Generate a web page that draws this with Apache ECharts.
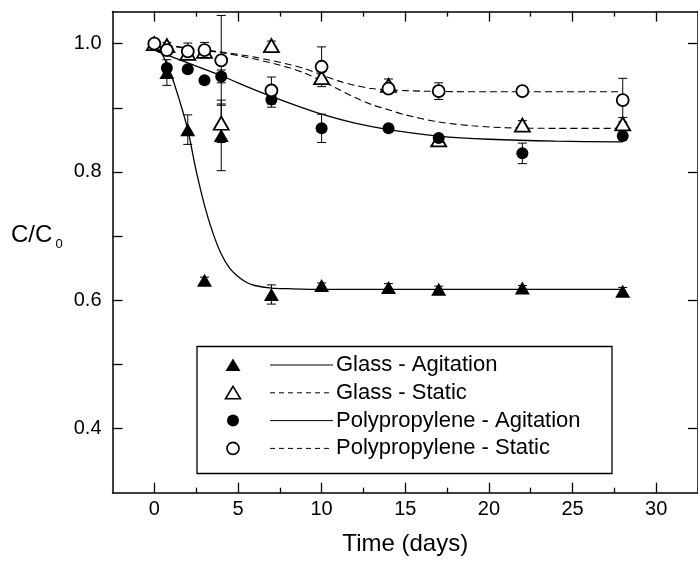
<!DOCTYPE html>
<html>
<head>
<meta charset="utf-8">
<title>C/C0 vs time</title>
<script src="https://cdn.jsdelivr.net/npm/echarts@6.0.0/dist/echarts.min.js"></script>
<style>
html, body { margin: 0; padding: 0; background: #fff; }
#main { width: 698px; height: 562px; }
</style>
</head>
<body>
<div id="main"></div>
<script>
// sampling days
const days = [0, 0.75, 2, 3, 4, 7, 10, 14, 17, 22, 28];

// measured C/C0 and error (half-range)
const glassAgit = [null, 0.955, 0.866, 0.631, 0.857, 0.609, 0.623, 0.620, 0.617, 0.619, 0.614];
const glassAgitErr = [0, 0.02, 0.023, 0.005, 0.055, 0.015, 0.004, 0.006, 0.005, 0.004, 0.006];
const glassStatic = [1.0, 0.997, 0.985, 0.988, 0.876, 0.997, 0.947, 0.935, 0.850, 0.873, 0.875];
const glassStaticErr = [0, 0.005, 0.005, 0.005, 0.03, 0.007, 0.01, 0.01, 0.005, 0.007, 0.01];
const ppAgit = [null, 0.962, 0.960, 0.943, 0.949, 0.913, 0.868, 0.868, 0.853, 0.829, 0.856];
const ppAgitErr = [0, 0.005, 0.005, 0.005, 0.01, 0.012, 0.022, 0.005, 0.005, 0.016, 0.005];
const ppStatic = [1.0, 0.990, 0.988, 0.990, 0.974, 0.927, 0.964, 0.930, 0.926, 0.926, 0.912];
const ppStaticErr = [0, 0.005, 0.013, 0.012, 0.07, 0.021, 0.031, 0.008, 0.013, 0.005, 0.034];

// fitted curves
const glassAgitFitT = [0, 0.5, 1, 1.5, 2, 2.5, 3, 3.5, 4, 4.5, 5, 5.5, 6, 7, 8, 10, 14, 20, 28];
const glassAgitFitV = [1.0, 0.982, 0.952, 0.912, 0.866, 0.802, 0.748, 0.705, 0.672, 0.650, 0.637, 0.628, 0.623, 0.619, 0.618, 0.617, 0.617, 0.617, 0.617];
const glassStaticFitT = [0, 2, 4, 6, 8, 9, 10, 11, 12, 13, 14, 15, 17, 19, 21, 24, 28];
const glassStaticFitV = [1.0, 0.993, 0.986, 0.976, 0.963, 0.954, 0.942, 0.929, 0.916, 0.905, 0.897, 0.889, 0.878, 0.872, 0.869, 0.868, 0.868];
const ppAgitFitT = [0, 2, 4, 6, 8, 10, 12, 14, 17, 20, 24, 28];
const ppAgitFitV = [0.99, 0.97, 0.95, 0.928, 0.908, 0.89, 0.876, 0.866, 0.856, 0.851, 0.848, 0.847];
const ppStaticFitT = [0, 2, 4, 6, 8, 9, 10, 11, 12, 13, 14, 16, 20, 28];
const ppStaticFitV = [1.0, 0.993, 0.987, 0.979, 0.968, 0.961, 0.951, 0.942, 0.935, 0.93, 0.928, 0.926, 0.925, 0.925];

// axis ticks and labels
const xMajor = [0, 5, 10, 15, 20, 25, 30];
const xMinor = [2.5, 7.5, 12.5, 17.5, 22.5, 27.5];
const yLabels = [0.4, 0.6, 0.8, 1.0];
const yTicks = [0.4, 0.5, 0.6, 0.7, 0.8, 0.9, 1.0];
const names = ['Glass - Agitation', 'Glass - Static', 'Polypropylene - Agitation', 'Polypropylene - Static'];

const FONT = '"Liberation Sans", Arial, sans-serif';
const chart = echarts.init(document.getElementById('main'));

function pairs(t, v) {
  return t.map((d, i) => [d, v[i]]).filter(p => p[1] != null);
}
function bars(v, e) {
  return days.map((d, i) => [d, v[i], e[i]])
    .filter(p => p[1] != null && p[2] > 0)
    .map(p => [p[0], p[1] - p[2], p[1] + p[2]]);
}

function errorBars(v, e) {
  return {
    type: 'custom',
    z: 3,
    silent: true,
    data: bars(v, e),
    renderItem: function (params, api) {
      const top = api.coord([api.value(0), api.value(2)]);
      const bot = api.coord([api.value(0), api.value(1)]);
      const w = 4.5;
      const st = { stroke: '#000', lineWidth: 1 };
      return {
        type: 'group',
        children: [
          { type: 'line', shape: { x1: top[0], y1: top[1], x2: bot[0], y2: bot[1] }, style: st },
          { type: 'line', shape: { x1: top[0] - w, y1: top[1], x2: top[0] + w, y2: top[1] }, style: st },
          { type: 'line', shape: { x1: bot[0] - w, y1: bot[1], x2: bot[0] + w, y2: bot[1] }, style: st }
        ]
      };
    }
  };
}

function fitLine(t, v, dashed) {
  return {
    type: 'line',
    z: 2,
    silent: true,
    smooth: 0.3,
    symbol: 'none',
    data: pairs(t, v),
    lineStyle: { color: '#000', width: dashed ? 1.1 : 1.3, type: dashed ? [7, 4] : 'solid' }
  };
}

function points(name, v, symbol, filled, z) {
  return {
    name: name,
    type: 'scatter',
    z: z,
    symbol: symbol,
    symbolSize: symbol === 'triangle' ? [15, 13] : 12,
    data: pairs(days, v),
    itemStyle: filled
      ? { color: '#000', opacity: 1 }
      : { color: '#fff', borderColor: '#000', borderWidth: 1.8, opacity: 1 }
  };
}

// legend drawn by hand: symbol, line sample, text
const legendGraphics = [{
  type: 'rect', z: 100,
  shape: { x: 197, y: 346.5, width: 415, height: 127 },
  style: { fill: '#fff', stroke: '#000', lineWidth: 1.3 }
}];
names.forEach(function (n, i) {
  const y = 365 + i * 27.8;
  const filled = i % 2 === 0;
  const sym = i < 2
    ? { type: 'polygon', shape: { points: [[233, y - 6.5], [240.5, y + 6], [225.5, y + 6]] } }
    : { type: 'circle', shape: { cx: 233, cy: y, r: 6 } };
  sym.z = 101;
  sym.style = filled ? { fill: '#000' } : { fill: '#fff', stroke: '#000', lineWidth: 1.6 };
  legendGraphics.push(sym);
  legendGraphics.push({
    type: 'line', z: 101,
    shape: { x1: 270, y1: y, x2: 333, y2: y },
    style: { stroke: '#000', lineWidth: 1, lineDash: filled ? null : [5, 4] }
  });
  legendGraphics.push({
    type: 'text', z: 101, x: 336, y: y,
    style: { text: n, fontSize: 22, fontFamily: FONT, fill: '#000', verticalAlign: 'middle' }
  });
});

chart.setOption({
  animation: false,
  backgroundColor: '#fff',
  grid: { left: 112.5, right: -7, top: 11.6, bottom: 69.3 },
  xAxis: [
    {
      type: 'value', position: 'bottom', min: -2.5, max: 32.5,
      name: 'Time (days)', nameLocation: 'middle', nameGap: 40,
      nameTextStyle: { fontSize: 24, fontFamily: FONT, color: '#000' },
      axisLine: { onZero: false, lineStyle: { color: '#000', width: 1.5 } },
      axisTick: { inside: true, length: 10, customValues: xMajor, lineStyle: { color: '#000', width: 1.3 } },
      axisLabel: { customValues: xMajor, margin: 7, fontSize: 20, fontFamily: FONT, color: '#000' },
      splitLine: { show: false }
    },
    {
      type: 'value', position: 'bottom', min: -2.5, max: 32.5,
      axisLine: { show: false, onZero: false },
      axisTick: { inside: true, length: 5, customValues: xMinor, lineStyle: { color: '#000', width: 1.3 } },
      axisLabel: { show: false },
      splitLine: { show: false }
    },
    {
      type: 'value', position: 'top', min: -2.5, max: 32.5,
      axisLine: { onZero: false, lineStyle: { color: '#000', width: 1.5 } },
      axisTick: { inside: true, length: 10, customValues: xMajor, lineStyle: { color: '#000', width: 1.3 } },
      axisLabel: { show: false },
      splitLine: { show: false }
    },
    {
      type: 'value', position: 'top', min: -2.5, max: 32.5,
      axisLine: { show: false, onZero: false },
      axisTick: { inside: true, length: 5, customValues: xMinor, lineStyle: { color: '#000', width: 1.3 } },
      axisLabel: { show: false },
      splitLine: { show: false }
    }
  ],
  yAxis: [
    {
      type: 'value', position: 'left', min: 0.3, max: 1.05,
      axisLine: { onZero: false, lineStyle: { color: '#000', width: 1.5 } },
      axisTick: { inside: true, length: 10, customValues: yTicks, lineStyle: { color: '#000', width: 1.3 } },
      axisLabel: {
        customValues: yLabels, margin: 11, fontSize: 20, fontFamily: FONT, color: '#000',
        formatter: v => v.toFixed(1)
      },
      splitLine: { show: false }
    },
    {
      type: 'value', position: 'right', min: 0.3, max: 1.05,
      axisLine: { onZero: false, lineStyle: { color: '#000', width: 1.5 } },
      axisTick: { inside: true, length: 10, customValues: yLabels, lineStyle: { color: '#000', width: 1.3 } },
      axisLabel: { show: false },
      splitLine: { show: false }
    }
  ],
  series: [
    fitLine(glassAgitFitT, glassAgitFitV, false),
    fitLine(glassStaticFitT, glassStaticFitV, true),
    fitLine(ppAgitFitT, ppAgitFitV, false),
    fitLine(ppStaticFitT, ppStaticFitV, true),
    errorBars(glassAgit, glassAgitErr),
    errorBars(glassStatic, glassStaticErr),
    errorBars(ppAgit, ppAgitErr),
    errorBars(ppStatic, ppStaticErr),
    points(names[0], glassAgit, 'triangle', true, 4),
    points(names[1], glassStatic, 'triangle', false, 5),
    points(names[2], ppAgit, 'circle', true, 6),
    points(names[3], ppStatic, 'circle', false, 7)
  ],
  graphic: legendGraphics.concat([
    { type: 'text', x: 11, y: 235, style: { text: 'C/C', fontSize: 24, fontFamily: FONT, fill: '#000', verticalAlign: 'middle' } },
    { type: 'text', x: 55.5, y: 244, style: { text: '0', fontSize: 13, fontFamily: FONT, fill: '#000', verticalAlign: 'middle' } }
  ])
});
</script>
</body>
</html>
